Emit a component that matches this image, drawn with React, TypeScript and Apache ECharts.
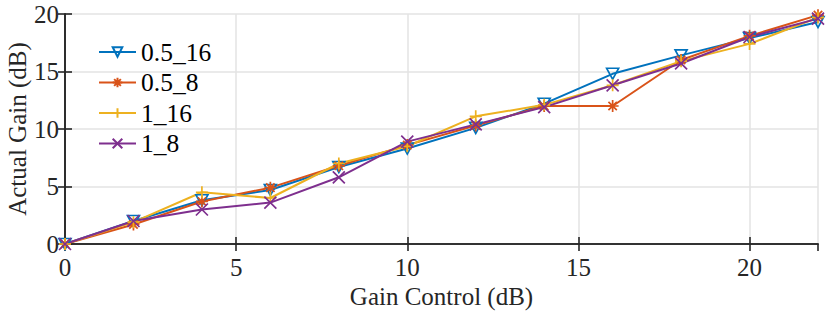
import React, { useEffect, useRef } from "react";
import * as echarts from "echarts";

const gainControl = [0, 2, 4, 6, 8, 10, 12, 14, 16, 18, 20, 22];
const s05_16 = [0, 2.0, 3.8, 4.7, 6.7, 8.3, 10.1, 12.2, 14.8, 16.4, 17.9, 19.3];
const s05_8 = [0, 1.7, 3.7, 4.9, 6.8, 8.6, 10.3, 12.0, 12.0, 16.0, 18.1, 19.9];
const s1_16 = [0, 1.9, 4.5, 4.0, 7.0, 8.5, 11.1, 12.1, 13.8, 15.9, 17.4, 19.7];
const s1_8 = [0, 2.0, 3.0, 3.6, 5.8, 8.9, 10.4, 11.9, 13.8, 15.7, 18.0, 19.6];
const seriesNames = ["0.5_16", "0.5_8", "1_16", "1_8"];
const colors = ["#0072BD", "#D95319", "#EDB120", "#7E2F8E"];

const symbols = [
  "path://M0,0 L10,0 L5,9 Z",
  "path://M5,0 L5,10 M0,5 L10,5 M1.5,1.5 L8.5,8.5 M8.5,1.5 L1.5,8.5",
  "path://M5,0 L5,10 M0,5 L10,5",
  "path://M0,0 L10,10 M10,0 L0,10",
];

const FONT = "Liberation Serif";

export default function App() {
  const ref = useRef<HTMLDivElement>(null);
  useEffect(() => {
    document.body.style.margin = "0";
    const chart = echarts.init(ref.current!, null, { renderer: "svg" });
    const data = [s05_16, s05_8, s1_16, s1_8];
    const axisLine = { show: true, lineStyle: { color: "#262626", width: 1.6 } };
    const tick = { show: true, inside: true, length: 7, lineStyle: { color: "#262626", width: 1.6 } };
    chart.setOption({
      animation: false,
      backgroundColor: "#fff",
      textStyle: { fontFamily: FONT },
      grid: { left: 65, right: 12, top: 14, bottom: 67, containLabel: false, outerBoundsMode: "none" },
      legend: {
        left: 93,
        top: 34,
        orient: "vertical",
        itemWidth: 37,
        itemHeight: 12,
        itemGap: 4.5,
        textStyle: { fontFamily: FONT, fontSize: 25.5, color: "#000" },
        data: seriesNames,
      },
      xAxis: [
        {
          type: "value",
          min: 0,
          max: 22,
          interval: 5,
          axisLine,
          axisTick: tick,
          axisLabel: { fontFamily: FONT, fontSize: 25, color: "#262626", margin: 11, showMaxLabel: false },
          splitLine: { show: true, lineStyle: { color: "#e3e3e3", width: 1.5 } },
          name: "Gain Control (dB)",
          nameLocation: "middle",
          nameGap: 40,
          nameMoveOverlap: false,
          nameTextStyle: { fontFamily: FONT, fontSize: 25, color: "#262626" },
        },
        {
          type: "value",
          position: "top",
          min: 0,
          max: 22,
          interval: 5,
          axisLine,
          axisTick: tick,
          axisLabel: { show: false },
          splitLine: { show: false },
        },
      ],
      yAxis: [
        {
          type: "value",
          min: 0,
          max: 20,
          interval: 5,
          axisLine,
          axisTick: tick,
          axisLabel: { fontFamily: FONT, fontSize: 25, color: "#262626", margin: 6 },
          splitLine: { show: true, lineStyle: { color: "#e3e3e3", width: 1.5 } },
          name: "Actual Gain (dB)",
          nameLocation: "middle",
          nameGap: 35,
          nameMoveOverlap: false,
          nameTextStyle: { fontFamily: FONT, fontSize: 25, color: "#262626" },
        },
        {
          type: "value",
          position: "right",
          min: 0,
          max: 20,
          interval: 5,
          axisLine,
          axisTick: tick,
          axisLabel: { show: false },
          splitLine: { show: false },
        },
      ],
      series: seriesNames.map((name, i) => ({
        name,
        type: "line",
        xAxisIndex: 0,
        yAxisIndex: 0,
        data: gainControl.map((x, j) => [x, data[i][j]]),
        symbol: symbols[i],
        symbolSize: i === 0 ? [12, 11] : 12,
        showAllSymbol: true,
        lineStyle: { color: colors[i], width: 2 },
        itemStyle: { color: i === 0 ? "rgba(255,255,255,0)" : colors[i], borderColor: colors[i], borderWidth: 1.7 },
        color: colors[i],
      })),
    });
    return () => chart.dispose();
  }, []);
  return <div ref={ref} style={{ width: 830, height: 311 }} />;
}
